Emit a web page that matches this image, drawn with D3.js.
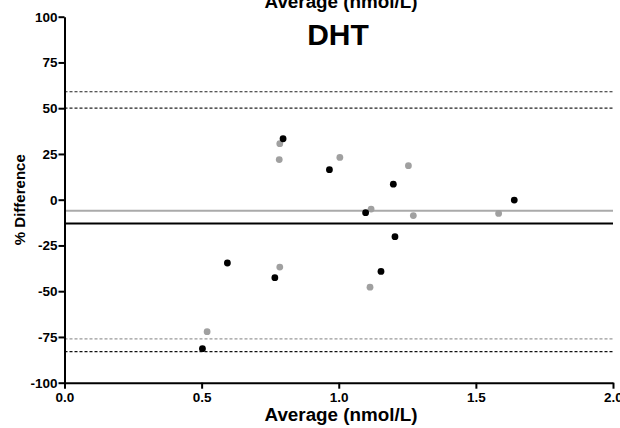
<!DOCTYPE html>
<html><head><meta charset="utf-8">
<script src="https://cdn.jsdelivr.net/npm/d3@7"></script>
<style>body{margin:0;background:#fff}svg{display:block}text{font-family:"Liberation Sans",Arial,sans-serif;font-weight:bold}</style>
</head><body>
<script>
const xTicks = [0, 0.5, 1.0, 1.5, 2.0];
const yTicks = [-100, -75, -50, -25, 0, 25, 50, 75, 100];
const blackX = [0.797, 0.966, 1.199, 1.640, 1.098, 1.205, 0.594, 0.767, 0.503, 1.154];
const blackY = [33.3, 16.4, 8.5, -0.2, -7.1, -20.2, -34.6, -42.6, -81.4, -39.2];
const grayX = [0.785, 0.783, 1.004, 1.254, 1.118, 1.272, 1.583, 0.785, 0.520, 1.114];
const grayY = [30.6, 21.9, 23.1, 18.6, -5.1, -8.7, -7.5, -36.8, -72.1, -47.8];
const meanLines = [{v: -6, c: "#aaaaaa"}, {v: -13, c: "#000000"}];
const limitLines = [{v: 59, c: "#222"}, {v: 50, c: "#222"}, {v: -76, c: "#999"}, {v: -83, c: "#111"}];
const title = "DHT";
const xLabel = "Average  (nmol/L)";
const yLabel = "% Difference";

const W = 620, H = 428;
const svg = d3.select("body").append("svg").attr("width", W).attr("height", H);
const x = d3.scaleLinear().domain([0, 2]).range([64.5, 613]);
const y = d3.scaleLinear().domain([-100, 100]).range([382.7, 16.7]);

svg.selectAll(".lim").data(limitLines).enter().append("line")
  .attr("x1", x(0)).attr("x2", x(2)).attr("y1", d => y(d.v)).attr("y2", d => y(d.v))
  .attr("stroke", d => d.c).attr("stroke-width", 1.2).attr("stroke-dasharray", "3,2");
svg.selectAll(".mean").data(meanLines).enter().append("line")
  .attr("x1", x(0)).attr("x2", x(2)).attr("y1", d => y(d.v)).attr("y2", d => y(d.v))
  .attr("stroke", d => d.c).attr("stroke-width", 2);

svg.selectAll(".g").data(grayX).enter().append("circle")
  .attr("cx", d => x(d)).attr("cy", (d, i) => y(grayY[i])).attr("r", 3.4).attr("fill", "#a0a0a0");
svg.selectAll(".b").data(blackX).enter().append("circle")
  .attr("cx", d => x(d)).attr("cy", (d, i) => y(blackY[i])).attr("r", 3.4).attr("fill", "#000");

const xa = svg.append("g").attr("transform", `translate(0,${y(-100)})`)
  .call(d3.axisBottom(x).tickValues(xTicks).tickFormat(d3.format(".1f")).tickSize(6).tickSizeOuter(0).tickPadding(4));
const ya = svg.append("g").attr("transform", `translate(${x(0)},0)`)
  .call(d3.axisLeft(y).tickValues(yTicks).tickFormat(d => String(d)).tickSize(6).tickSizeOuter(0).tickPadding(1));
[xa, ya].forEach(a => {
  a.select(".domain").attr("stroke-width", 2);
  a.selectAll(".tick line").attr("stroke-width", 2);
  a.selectAll(".tick text").attr("font-size", 13.5).attr("font-weight", "bold").attr("fill", "#000")
    .attr("font-family", '"Liberation Sans",Arial,sans-serif');
});

svg.append("text").attr("x", 341).attr("y", 8).attr("text-anchor", "middle").attr("font-size", 17.5)
  .attr("textLength", 153).attr("lengthAdjust", "spacingAndGlyphs").text(xLabel);
svg.append("text").attr("x", 338).attr("y", 45).attr("text-anchor", "middle").attr("font-size", 30).text(title);
svg.append("text").attr("x", 341).attr("y", 421).attr("text-anchor", "middle").attr("font-size", 17.5)
  .attr("textLength", 153).attr("lengthAdjust", "spacingAndGlyphs").text(xLabel);
svg.append("text").attr("transform", `translate(25,${(y(100)+y(-100))/2}) rotate(-90)`)
  .attr("text-anchor", "middle").attr("font-size", 15).text(yLabel);
</script>
</body></html>
